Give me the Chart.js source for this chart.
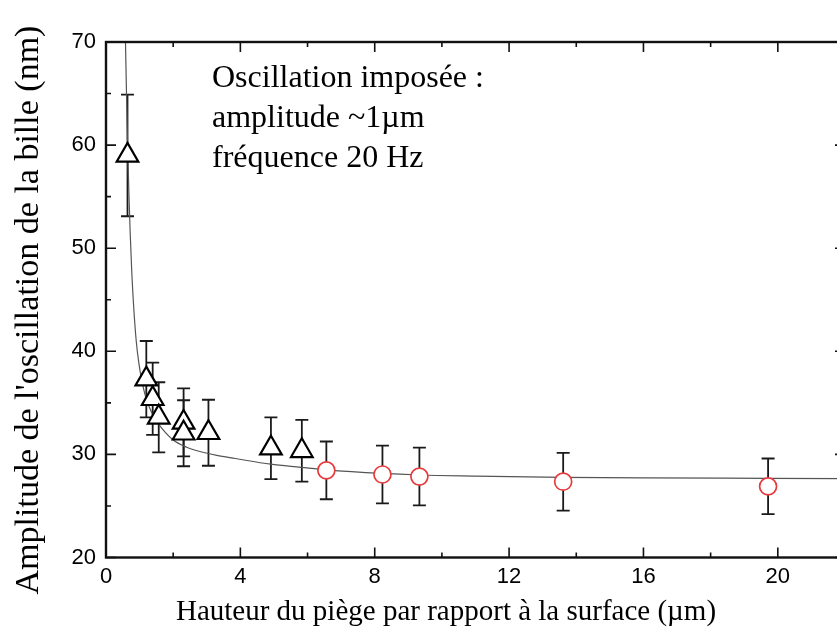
<!DOCTYPE html>
<html>
<head>
<meta charset="utf-8">
<script src="https://cdn.jsdelivr.net/npm/chart.js@4/dist/chart.umd.min.js"></script>
<style>
    html, body { margin: 0; padding: 0; background: #fff; overflow: hidden; }
    #wrap { position: absolute; left: 0; top: 0; width: 860px; height: 639px; }
</style>
</head>
<body>
<div id="wrap"><canvas id="chart"></canvas></div>
<script>
// Triangles (black, open)
const triX = [0.64, 1.20, 1.39, 1.57, 2.31, 2.31, 3.05, 4.91, 5.83];
const triY = [59.0, 37.3, 35.4, 33.6, 33.1, 32.05, 32.1, 30.6, 30.35];
const triErr = [5.9, 3.7, 3.5, 3.4, 3.3, 3.2, 3.2, 3.0, 3.0];

// Circles (red, open)
const circX = [6.56, 8.23, 9.33, 13.61, 19.71];
const circY = [28.45, 28.05, 27.85, 27.35, 26.9];
const circErr = [2.8, 2.8, 2.8, 2.8, 2.7];

// Fit curve, points
const fitX = [0.58, 0.61, 0.64, 0.68, 0.72, 0.77, 0.83, 0.90, 0.98, 1.07, 1.17, 1.3, 1.45, 1.67, 2.0, 2.4, 2.66, 3.3, 3.85, 4.9, 5.8, 6.56, 8.2, 9.33, 11, 13.6, 16, 19.7, 22];
const fitY = [70, 65, 60.5, 55.5, 51.5, 47.5, 44, 41, 38.8, 37.1, 35.7, 34.5, 33.5, 32.5, 31.4, 30.7, 30.4, 29.9, 29.6, 29.05, 28.75, 28.5, 28.15, 28.0, 27.9, 27.78, 27.72, 27.68, 27.65];

// Ticks
const xTicks = [0, 4, 8, 12, 16, 20];
const xMinor = [2, 6, 10, 14, 18];
const yTicks = [20, 30, 40, 50, 60, 70];
const yMinor = [25, 35, 45, 55, 65];

const xTitle = 'Hauteur du piège par rapport à la surface (µm)';
const yTitle = "Amplitude de l'oscillation de la bille (nm)";
const noteLines = ['Oscillation imposée :', 'amplitude ~1µm', 'fréquence 20 Hz'];

const toPoints = (xs, ys) => xs.map((x, i) => ({ x: x, y: ys[i] }));

// error bars, drawn under the markers
const errorBars = {
    id: 'errorBars',
    beforeDatasetsDraw(chart) {
        const ctx = chart.ctx;
        const xs = chart.scales.x, ys = chart.scales.y;
        ctx.save();
        ctx.beginPath();
        ctx.rect(chart.chartArea.left, chart.chartArea.top, chart.chartArea.width, chart.chartArea.height);
        ctx.clip();
        ctx.strokeStyle = '#1a1a1a';
        ctx.lineWidth = 1.8;
        chart.data.datasets.forEach(ds => {
            if (!ds.errs) return;
            ds.data.forEach((p, i) => {
                const px = xs.getPixelForValue(p.x);
                const top = ys.getPixelForValue(p.y + ds.errs[i]);
                const bot = ys.getPixelForValue(p.y - ds.errs[i]);
                ctx.beginPath();
                ctx.moveTo(px, top); ctx.lineTo(px, bot);
                ctx.moveTo(px - 6.5, top); ctx.lineTo(px + 6.5, top);
                ctx.moveTo(px - 6.5, bot); ctx.lineTo(px + 6.5, bot);
                ctx.stroke();
            });
        });
        ctx.restore();
    }
};

// frame with inward ticks, titles and the note
const frame = {
    id: 'frame',
    afterDraw(chart) {
        const ctx = chart.ctx;
        const a = chart.chartArea;
        const xs = chart.scales.x, ys = chart.scales.y;
        ctx.save();
        ctx.strokeStyle = '#111';
        ctx.lineWidth = 2.4;
        ctx.strokeRect(a.left, a.top, a.right - a.left, a.bottom - a.top);

        const tick = (vals, len, horiz) => {
            vals.forEach(v => {
                ctx.beginPath();
                if (horiz) {
                    const px = xs.getPixelForValue(v);
                    ctx.moveTo(px, a.bottom); ctx.lineTo(px, a.bottom - len);
                    ctx.moveTo(px, a.top); ctx.lineTo(px, a.top + len);
                } else {
                    const py = ys.getPixelForValue(v);
                    ctx.moveTo(a.left, py); ctx.lineTo(a.left + len, py);
                    ctx.moveTo(a.right, py); ctx.lineTo(a.right - len, py);
                }
                ctx.stroke();
            });
        };
        ctx.lineWidth = 1.6;
        tick(xTicks, 10, true);
        tick(xMinor, 5, true);
        tick(yTicks, 10, false);
        tick(yMinor, 5, false);

        ctx.fillStyle = '#000';
        ctx.textBaseline = 'alphabetic';
        ctx.textAlign = 'left';
        ctx.font = '32px "Liberation Serif"';
        noteLines.forEach((t, i) => ctx.fillText(t, 212, 87 + i * 40));

        ctx.textAlign = 'center';
        ctx.textBaseline = 'middle';
        ctx.font = '29px "Liberation Serif"';
        ctx.fillText(xTitle, 446, 612);

        ctx.translate(29, 310);
        ctx.rotate(-Math.PI / 2);
        ctx.font = '34px "Liberation Serif"';
        ctx.fillText(yTitle, 0, 0);
        ctx.restore();
    }
};

const tickFont = { family: '"Liberation Sans", Arial, sans-serif', size: 22 };

new Chart(document.getElementById('chart'), {
    type: 'scatter',
    data: {
        datasets: [{
            label: 'triangles',
            data: toPoints(triX, triY),
            errs: triErr,
            pointStyle: 'triangle',
            pointRadius: 12.5,
            pointBorderWidth: 2.2,
            borderColor: '#000',
            pointBackgroundColor: '#fff'
        }, {
            label: 'cercles',
            data: toPoints(circX, circY),
            errs: circErr,
            pointStyle: 'circle',
            pointRadius: 8.5,
            pointBorderWidth: 1.7,
            borderColor: '#e8393b',
            pointBackgroundColor: '#fff'
        }, {
            type: 'line',
            label: 'ajustement',
            data: toPoints(fitX, fitY),
            borderColor: '#555',
            borderWidth: 1.2,
            pointRadius: 0,
            fill: false,
            cubicInterpolationMode: 'monotone'
        }]
    },
    options: {
        responsive: true,
        maintainAspectRatio: false,
        animation: false,
        layout: { padding: { top: 42, right: 15, left: 0, bottom: 0 } },
        plugins: {
            legend: { display: false },
            tooltip: { enabled: false }
        },
        scales: {
            x: {
                type: 'linear',
                min: 0,
                max: 22,
                grid: { display: false, drawTicks: false },
                border: { display: false },
                ticks: { color: '#000', font: tickFont, padding: 6, maxRotation: 0 },
                afterBuildTicks: s => { s.ticks = xTicks.map(v => ({ value: v })); },
                afterFit: s => { s.height = 81.5; }
            },
            y: {
                type: 'linear',
                min: 20,
                max: 70,
                grid: { display: false, drawTicks: false },
                border: { display: false },
                ticks: { color: '#000', font: tickFont, padding: 10 },
                afterBuildTicks: s => { s.ticks = yTicks.map(v => ({ value: v })); },
                afterFit: s => { s.width = 106; }
            }
        }
    },
    plugins: [errorBars, frame]
});
</script>
</body>
</html>
